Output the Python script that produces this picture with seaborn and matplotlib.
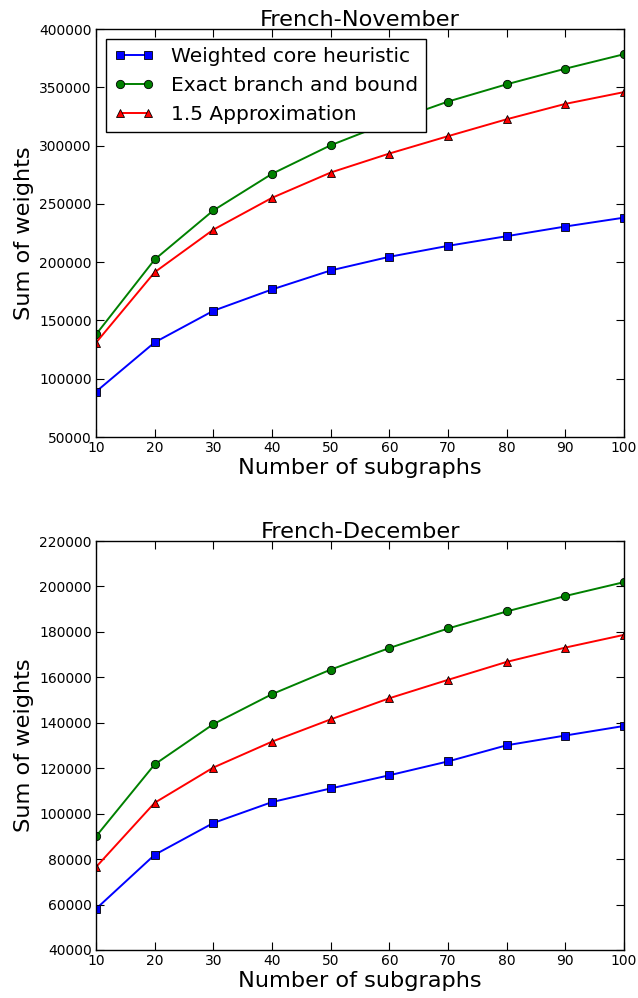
import numpy as np
import pandas as pd
import matplotlib
matplotlib.use("Agg")
import matplotlib.pyplot as plt
import seaborn as sns

# --- data ---
subgraphs = [10, 20, 30, 40, 50, 60, 70, 80, 90, 100]
methods = ["Weighted core heuristic", "Exact branch and bound", "1.5 Approximation"]

nov_core = [88900, 131200, 158300, 176600, 192900, 204600, 214000, 222300, 230600, 238200]
nov_exact = [138000, 202300, 244400, 275800, 300300, 320000, 337800, 352600, 366000, 378400]
nov_approx = [130900, 191400, 227900, 255200, 276900, 293200, 308100, 322600, 335800, 345900]

dec_core = [58100, 81900, 95900, 105100, 111100, 116900, 123000, 130100, 134400, 138600]
dec_exact = [90000, 121700, 139400, 152600, 163400, 172900, 181500, 189000, 195800, 201900]
dec_approx = [76500, 104800, 120300, 131700, 141500, 150800, 158900, 166800, 173100, 178700]

panels = [
    ("French-November", [nov_core, nov_exact, nov_approx], (50000, 400000), 50000),
    ("French-December", [dec_core, dec_exact, dec_approx], (40000, 220000), 20000),
]

palette = {methods[0]: "#0000ff", methods[1]: "#008000", methods[2]: "#ff0000"}
markers = {methods[0]: "s", methods[1]: "o", methods[2]: "^"}

fig = plt.figure(figsize=(6.38, 9.98), dpi=100)
axes = [fig.add_axes([0.1505, 0.5621, 0.8276, 0.4088]),
        fig.add_axes([0.1505, 0.0481, 0.8276, 0.4098])]

for ax, (title, series, ylim, ystep) in zip(axes, panels):
    rows = []
    for name, vals in zip(methods, series):
        for x, v in zip(subgraphs, vals):
            rows.append({"subgraphs": x, "weights": v, "method": name})
    df = pd.DataFrame(rows)

    sns.lineplot(data=df, x="subgraphs", y="weights", hue="method", style="method",
                 palette=palette, markers=markers, dashes=False, ax=ax,
                 linewidth=1.4, markersize=6, markeredgecolor="black",
                 markeredgewidth=0.6, legend=(ax is axes[0]))

    ax.set_xlim(10, 100)
    ax.set_ylim(*ylim)
    ax.set_xticks(subgraphs)
    ax.set_yticks(np.arange(ylim[0], ylim[1] + 1, ystep))
    ax.tick_params(direction="in", top=True, right=True, length=6, labelsize=10, pad=3)
    for sp in ax.spines.values():
        sp.set_color("black")
        sp.set_linewidth(1.0)
    ax.set_title(title, fontsize=16.2, pad=2)
    ax.set_xlabel("Number of subgraphs", fontsize=16.2, labelpad=2)
    ax.set_ylabel("Sum of weights", fontsize=16.2, labelpad=4)

leg = axes[0].legend(loc="upper left", fontsize=14.5, numpoints=2, fancybox=False,
                     framealpha=1, edgecolor="black", handlelength=2,
                     borderaxespad=0.5)
leg.get_frame().set_linewidth(1.0)

fig.savefig("out.png", dpi=100)
